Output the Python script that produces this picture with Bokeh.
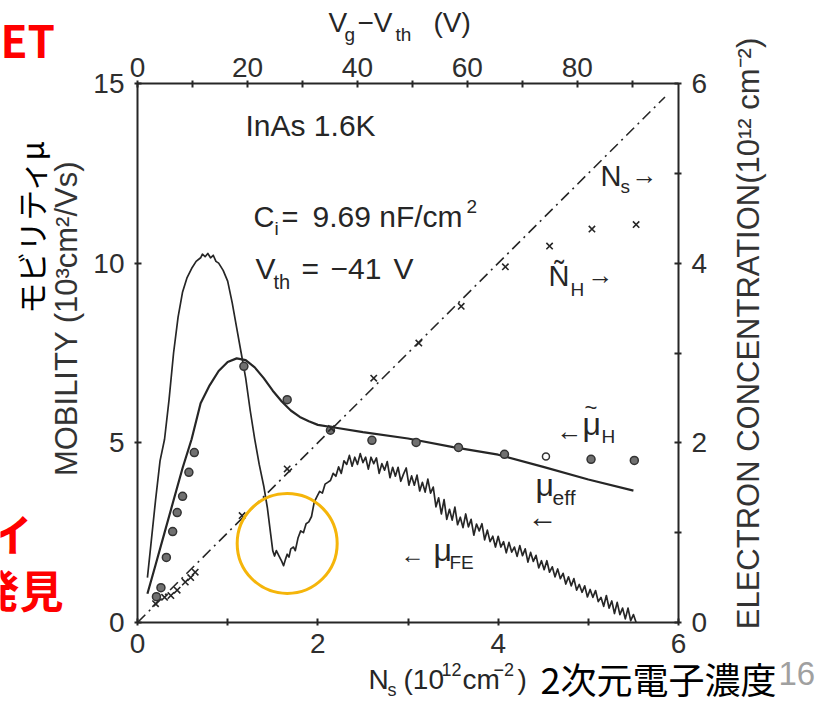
import math
from bokeh.plotting import figure
from bokeh.models import Range1d, LinearAxis, Label, FixedTicker
from bokeh.embed import file_html
from bokeh.resources import INLINE

# ---------------- data ----------------
# field-effect mobility mu_FE (10^3 cm^2/Vs) vs Ns (10^12 cm^-2)
mu_fe_x = [0.11, 0.15, 0.20, 0.25, 0.30, 0.35, 0.40, 0.45, 0.50, 0.55, 0.60, 0.65, 0.70, 0.72, 0.75,
           0.78, 0.81, 0.84, 0.87, 0.90, 0.95, 1.00, 1.05, 1.10, 1.15, 1.20, 1.25, 1.30, 1.35, 1.40,
           1.44, 1.47, 1.50, 1.52, 1.54, 1.57, 1.60, 1.62, 1.64, 1.66, 1.68, 1.70, 1.73, 1.75, 1.78,
           1.81, 1.84, 1.87, 1.90, 1.93, 1.96, 1.99, 2.02, 2.05, 2.08, 2.11,
           2.14, 2.17, 2.20, 2.23, 2.26, 2.29, 2.32, 2.35, 2.38, 2.41, 2.44, 2.47, 2.50, 2.53, 2.56,
           2.59, 2.62, 2.65, 2.68, 2.71, 2.74, 2.77, 2.80, 2.83, 2.86, 2.89, 2.92, 2.95, 2.98, 3.01,
           3.04, 3.07, 3.10, 3.13, 3.16, 3.19, 3.22, 3.25, 3.28, 3.31, 3.34, 3.37, 3.40, 3.43, 3.46,
           3.49, 3.52, 3.55, 3.58, 3.61, 3.64, 3.67, 3.70, 3.73, 3.76, 3.79, 3.82, 3.85, 3.88, 3.91,
           3.94, 3.97, 4.00, 4.03, 4.06, 4.09, 4.12, 4.15, 4.18, 4.21, 4.24, 4.27, 4.30, 4.33, 4.36,
           4.39, 4.42, 4.45, 4.48, 4.51, 4.54, 4.57, 4.60, 4.63, 4.66, 4.69, 4.72, 4.75, 4.78, 4.81,
           4.84, 4.87, 4.90, 4.93, 4.96, 4.99, 5.02, 5.05, 5.08, 5.11, 5.14, 5.17, 5.20, 5.23, 5.26,
           5.29, 5.32, 5.35, 5.38, 5.41, 5.44, 5.47, 5.50, 5.53]
mu_fe_y = [1.25, 2.2, 3.4, 4.5, 5.1, 6.2, 7.5, 8.5, 9.2, 9.6, 9.85, 10.05, 10.15, 10.25, 10.18,
           10.27, 10.15, 10.22, 10.05, 10.0, 9.8, 9.5, 8.9, 8.2, 7.5, 6.8, 5.9, 5.1, 4.4, 3.8,
           3.2, 2.6, 2.0, 1.85, 2.0, 1.85, 1.7, 1.58, 1.75, 1.9, 1.82, 2.05, 2.1, 2.0, 2.35,
           2.55, 2.5, 2.75, 2.8, 2.95, 3.35, 3.5, 3.65, 3.6, 3.85, 3.9,
           3.95, 4.15, 4.07, 4.33, 4.15, 4.5, 4.4, 4.65, 4.35, 4.6, 4.4, 4.7, 4.45, 4.6, 4.27,
           4.6, 4.42, 4.58, 4.15, 4.42, 4.24, 4.48, 4.03, 4.32, 4.07, 4.32, 3.93, 4.13, 4.3, 3.82,
           4.08, 3.82, 4.1, 3.66, 3.9, 3.63, 3.99, 3.6, 3.77, 3.22, 3.47, 3.02, 3.42, 2.87, 3.15,
           2.85, 3.21, 2.72, 2.93, 2.64, 3.02, 2.66, 2.87, 2.43, 2.74, 2.55, 2.75, 2.3, 2.57, 2.25,
           2.4, 2.1, 2.4, 2.1, 2.25, 1.94, 2.23, 1.96, 2.1, 1.84, 2.14, 1.86, 2.05, 1.68, 1.95,
           1.7, 1.87, 1.52, 1.72, 1.47, 1.72, 1.4, 1.55, 1.27, 1.49, 1.22, 1.37, 1.07, 1.27, 1.02,
           1.22, 0.9, 1.06, 0.84, 1.02, 0.71, 0.92, 0.7, 0.89, 0.58, 0.7, 0.45, 0.75, 0.4, 0.6,
           0.25, 0.56, 0.22, 0.4, 0.1, 0.4, 0.05, 0.22, 0.0]

# effective mobility mu_eff (smooth curve)
mu_eff_x = [0.11, 0.2, 0.3, 0.4, 0.5, 0.6, 0.7, 0.8, 0.9, 1.0, 1.1, 1.2, 1.3, 1.4, 1.5, 1.6, 1.7,
            1.8, 1.9, 2.0, 2.2, 2.5, 3.0, 3.5, 4.0, 4.5, 5.0, 5.5]
mu_eff_y = [0.8, 1.6, 2.5, 3.4, 4.3, 5.1, 6.1, 6.6, 7.0, 7.25, 7.35, 7.3, 7.1, 6.8, 6.45, 6.15, 5.9,
            5.72, 5.6, 5.5, 5.42, 5.3, 5.12, 4.88, 4.67, 4.33, 3.98, 3.67]

# Hall mobility mu_H (dots)
mu_h_x = [0.21, 0.26, 0.32, 0.39, 0.44, 0.50, 0.57, 0.63, 1.18, 1.66, 2.14, 2.60, 3.09, 3.56, 4.07,
          5.03, 5.51]
mu_h_y = [0.72, 0.97, 1.81, 2.53, 3.06, 3.51, 4.18, 4.73, 7.13, 6.20, 5.35, 5.07, 5.01, 4.87, 4.68,
          4.54, 4.51]
mu_h_open_x = [4.53]
mu_h_open_y = [4.62]

# Hall concentration N_H (crosses, right axis, 10^12 cm^-2)
n_h_x = [0.20, 0.30, 0.37, 0.44, 0.53, 0.59, 0.64, 1.16, 1.66, 2.15, 2.62, 3.12, 3.59, 4.08, 4.57,
         5.04, 5.53]
n_h_y = [0.21, 0.28, 0.30, 0.36, 0.45, 0.50, 0.56, 1.19, 1.71, 2.16, 2.72, 3.11, 3.52, 3.96, 4.19,
         4.38, 4.43]

# Ns line (right axis)
ns_x = [0.0, 5.85]
ns_y = [0.0, 5.85]

# highlighted dip
hl_x = [1.66]
hl_y = [2.2]

bottom_ticks = [0, 2, 4, 6]
bottom_minor = [1, 3, 5]
top_ticks = [0, 20, 40, 60, 80]
top_minor = [10, 30, 50, 70, 90]
left_ticks = [0, 5, 10, 15]
right_ticks = [0, 2, 4, 6]
right_minor = [1, 3, 5]

# ---------------- geometry ----------------
INK = "#262626"
FONT = "Liberation Sans"
JP = "Noto Sans CJK JP"

W, H = 827, 705
L, R, T, B = 137, 678, 83, 622          # pixel box of the chart frame
XMAX, YMAX, CMAX, VMAX = 6.0, 15.0, 6.0, 98.4


def span(lo_px, hi_px, vmax, size):
    per = vmax / (hi_px - lo_px)
    return Range1d(-lo_px * per, (size - lo_px) * per)


def vspan(top_px, bot_px, vmax, size):
    per = vmax / (bot_px - top_px)
    return Range1d(-(size - bot_px) * per, bot_px * per)


p = figure(width=W, height=H, x_range=span(L, R, XMAX, W), y_range=vspan(T, B, YMAX, H),
           output_backend="svg", toolbar_location=None,
           min_border_left=0, min_border_right=0, min_border_top=0, min_border_bottom=0)
p.extra_y_ranges = {"conc": vspan(T, B, CMAX, H)}
p.extra_x_ranges = {"vg": span(L, R, VMAX, W)}
p.xgrid.visible = False
p.ygrid.visible = False
p.outline_line_color = None
p.background_fill_color = "white"
p.border_fill_color = "white"
p.xaxis.visible = False
p.yaxis.visible = False


def style_axis(ax, ticks, minor, standoff):
    ax.ticker = FixedTicker(ticks=ticks, minor_ticks=minor)
    ax.axis_line_color = INK
    ax.axis_line_width = 2
    ax.major_tick_line_color = INK
    ax.minor_tick_line_color = INK
    ax.major_tick_line_width = 2
    ax.minor_tick_line_width = 2
    ax.major_tick_in = 4
    ax.major_tick_out = 3
    ax.minor_tick_in = 4
    ax.minor_tick_out = 3
    ax.major_label_text_font = FONT
    ax.major_label_text_font_size = "28px"
    ax.major_label_text_color = "#2e2e2e"
    ax.major_label_standoff = standoff


ax_b = LinearAxis(fixed_location=0, bounds=(0, XMAX))
style_axis(ax_b, bottom_ticks, bottom_minor, 8)
p.add_layout(ax_b, "below")
ax_l = LinearAxis(fixed_location=0, bounds=(0, YMAX))
style_axis(ax_l, left_ticks, [], 10)
p.add_layout(ax_l, "left")
ax_r = LinearAxis(y_range_name="conc", fixed_location=XMAX, bounds=(0, CMAX))
style_axis(ax_r, right_ticks, right_minor, 10)
p.add_layout(ax_r, "right")
ax_t = LinearAxis(x_range_name="vg", fixed_location=YMAX, bounds=(0, VMAX))
style_axis(ax_t, top_ticks, top_minor, 4)
p.add_layout(ax_t, "above")

# ---------------- marks ----------------
p.line(ns_x, ns_y, y_range_name="conc", line_color=INK, line_width=1.6, line_dash="11 5 2 5")
p.line(mu_eff_x, mu_eff_y, line_color=INK, line_width=2.2)
p.line(mu_fe_x, mu_fe_y, line_color=INK, line_width=1.7, line_join="round")
p.scatter(mu_h_x, mu_h_y, marker="circle", size=8, fill_color="#707070", line_color="#333333",
          line_width=1.5)
p.scatter(mu_h_open_x, mu_h_open_y, marker="circle", size=7, fill_color="white",
          line_color="#333333", line_width=1.5)
p.scatter(n_h_x, n_h_y, y_range_name="conc", marker="x", size=9, line_color=INK, line_width=1.6)
p.scatter(hl_x, hl_y, marker="circle", size=100, fill_color=None, line_color="#F5B50A",
          line_width=3)


# ---------------- text ----------------
def dx(px):
    return (px - L) * XMAX / (R - L)


def dy(py):
    return (B - py) * YMAX / (B - T)


def lab(text, px, py, size=29, color=INK, font=FONT, align="left", baseline="alphabetic",
        angle=0.0, style="normal", shift=True):
    if shift:
        py = py - 0.4 * size
    p.add_layout(Label(x=dx(px), y=dy(py), text=text, text_font=font,
                       text_font_size=f"{size}px", text_color=color, text_align=align,
                       text_baseline=baseline, angle=angle, text_font_style=style))


# top axis label  Vg - Vth (V)
lab("V", 328, 33, 28)
lab("g", 344, 42, 19)
lab("\u2212V", 357, 33, 28)
lab("th", 395, 42, 19)
lab("(V)", 433, 33, 28)

# bottom axis label  Ns (10^12 cm^-2)
lab("N", 368, 690, 28)
lab("s", 387, 697, 18)
lab("(10", 403, 690, 28)
lab("12", 441, 676, 18)
lab("cm", 462, 690, 28)
lab("\u22122", 493, 676, 18)
lab(")", 517, 690, 28)

# vertical axis labels
lab("MOBILITY (10\u00b3cm\u00b2/Vs)", 66, 318, 31, color="#333333", align="center",
    baseline="middle", angle=math.pi / 2, shift=False)
lab("ELECTRON CONCENTRATION(10\u00b9\u00b2 cm\u207b\u00b2)", 748, 333, 31, color="#333333",
    align="center", baseline="middle", angle=math.pi / 2, shift=False)
lab("モビリティμ", 30, 226, 31, color="black", font=JP, align="center", baseline="middle",
    angle=math.pi / 2, shift=False)

# in-plot annotations
lab("InAs 1.6K", 245, 137, 30)
lab("C", 253, 228, 29)
lab("i", 274, 236, 19)
lab("=", 281, 228, 29)
lab("9.69 nF/cm", 312, 228, 30)
lab("2", 466, 214, 19)
lab("V", 255, 280, 30)
lab("th", 273, 289, 20)
lab("=", 301, 280, 30)
lab("\u221241", 330, 280, 30)
lab("V", 393, 280, 30)

lab("N", 600, 187, 29)
lab("s", 620, 194, 19)
lab("\u2192", 631, 185, 26)
lab("\u00d1", 548, 287, 29)
lab("H", 570, 297, 19)
lab("\u2192", 587, 285, 26)
lab("\u2190", 556, 441, 26)
lab("\u03bc", 582, 436, 32)
lab("~", 584, 416, 22)
lab("H", 601, 444, 19)
lab("\u03bc", 535, 497, 32)
lab("eff", 552, 505, 21)
lab("\u2190", 527, 528, 30)
lab("\u2190", 400, 564, 24)
lab("\u03bc", 433, 562, 32)
lab("FE", 449, 570, 19)

# slide texts
lab("ET", 0, 56, 44, color="#FF0000", font=JP, style="bold")
lab("イ", -12, 550, 44, color="#FF0000", font=JP, style="bold")
lab("発見", -25, 606, 44, color="#FF0000", font=JP, style="bold")
lab("2次元電子濃度", 540, 692, 36, color="black", font=JP)
lab("16", 778, 686, 33, color="#a0a0a0")

open("out.html", "w").write(file_html(p, INLINE))
